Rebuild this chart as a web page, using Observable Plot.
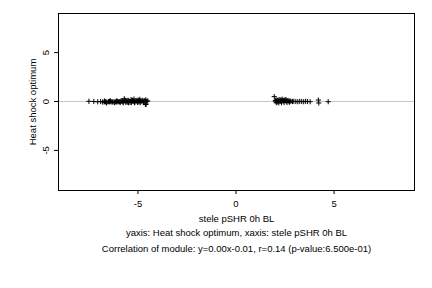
<!DOCTYPE html>
<html><head><meta charset="utf-8">
<script src="https://cdn.jsdelivr.net/npm/d3@7"></script>
<script src="https://cdn.jsdelivr.net/npm/@observablehq/plot@0.6"></script>
<style>body{margin:0;background:#fff}svg{display:block}</style>
</head><body><div id="chart"></div>
<script>
const xLeft = [-7.5,-7.25,-7.05,-6.9,-6.8,-6.72,-6.65,-6.58,-6.5,-6.43,-6.36,-6.3,-6.22,-6.15,-6.08,-6.0,-5.94,-5.88,-5.82,-5.76,-5.7,-5.65,-5.6,-5.55,-5.5,-5.45,-5.4,-5.35,-5.3,-5.25,-5.2,-5.15,-5.1,-5.05,-5.0,-4.95,-4.9,-4.85,-4.8,-4.75,-4.7,-4.65,-4.6,-4.55,-4.5,-6.6,-6.2,-5.9,-5.75,-5.62,-5.48,-5.33,-5.18,-5.02,-4.88,-4.72,-4.58,-6.45,-6.05,-5.68,-5.28,-4.95,-4.62,-6.7,-6.4,-6.1,-5.8,-5.52,-5.22,-4.92,-4.68];
const yLeft = [0.02,0.0,-0.03,0.0,-0.05,-0.04,-0.03,-0.05,-0.02,-0.04,-0.03,-0.05,-0.02,-0.04,-0.06,-0.02,-0.03,0.03,0.05,-0.05,0.28,0.1,0.04,-0.08,0.12,0.05,-0.1,0.2,0.08,0.03,0.25,-0.06,0.1,0.04,0.15,-0.05,0.22,0.08,0.03,0.12,-0.1,0.05,0.18,0.0,0.06,-0.15,-0.12,-0.1,-0.14,-0.08,-0.12,-0.1,-0.13,-0.09,-0.12,-0.1,-0.28,0.03,0.04,0.15,0.12,0.1,-0.3,0.05,0.06,0.05,0.07,0.06,0.05,0.07,0.06];
const xRight = [1.95,2.0,2.05,2.1,2.15,2.2,2.25,2.3,2.35,2.4,2.45,2.5,2.55,2.6,2.65,2.7,2.75,2.8,2.88,2.95,3.05,3.15,3.25,3.35,3.45,3.55,3.65,3.78,4.2,4.22,4.7,2.05,2.18,2.32,2.45,2.6,2.72,2.02,2.12,2.28,2.4,2.55];
const yRight = [0.5,0.05,0.15,-0.05,0.08,0.2,0.02,0.1,0.25,0.05,0.12,0.2,0.03,0.08,0.1,0.02,0.05,0.03,0.0,0.02,0.0,-0.02,0.02,0.0,-0.02,0.02,0.0,-0.02,0.15,-0.15,-0.02,-0.12,-0.14,-0.12,-0.1,-0.1,-0.08,0.1,0.12,0.15,0.1,0.18];
const xTicks = [-5, 0, 5];
const yTicks = [-5, 0, 5];
const caption1 = "yaxis: Heat shock optimum, xaxis: stele pSHR 0h BL";
const caption2 = "Correlation of module: y=0.00x-0.01, r=0.14 (p-value:6.500e-01)";

const pts = xLeft.map((x,i)=>({x, y:yLeft[i]})).concat(xRight.map((x,i)=>({x, y:yRight[i]})));

const chart = Plot.plot({
  width: 432, height: 288,
  marginLeft: 58, marginRight: 18, marginTop: 13, marginBottom: 98,
  style: {fontFamily: "'Liberation Sans', Arial, sans-serif", fontSize: "9.5px", background: "#fff", color: "#000"},
  x: {domain: [-9.05, 9.1], ticks: xTicks, label: "stele pSHR 0h BL", labelAnchor: "center", labelArrow: "none"},
  y: {domain: [-9.1, 9.0], ticks: yTicks, label: "Heat shock optimum", labelAnchor: "center", labelArrow: "none"},
  marks: [
    Plot.ruleY([0], {stroke: "#c8c8c8", strokeWidth: 1}),
    Plot.dot(pts, {x: "x", y: "y", symbol: "plus", r: 1.8, stroke: "#000", strokeWidth: 1}),
    Plot.frame({stroke: "#000", strokeWidth: 1}),
    Plot.axisX({ticks: xTicks, tickSize: 4, tickPadding: 6, label: "stele pSHR 0h BL", labelAnchor: "center", labelOffset: 31, labelArrow: "none", tickFormat: d => d < 0 ? "-" + Math.abs(d) : String(d)}),
    Plot.axisY({ticks: yTicks, tickSize: 4, tickRotate: -90, tickPadding: 6, label: "Heat shock optimum", labelAnchor: "center", labelOffset: 29, labelArrow: "none", tickFormat: d => d < 0 ? "-" + Math.abs(d) : String(d)}),
    Plot.text([caption1], {text: d => d, frameAnchor: "bottom", dy: 45, fontSize: 9.5}),
    Plot.text([caption2], {text: d => d, frameAnchor: "bottom", dy: 61, fontSize: 9.5})
  ]
});
document.getElementById("chart").appendChild(chart);
</script></body></html>
